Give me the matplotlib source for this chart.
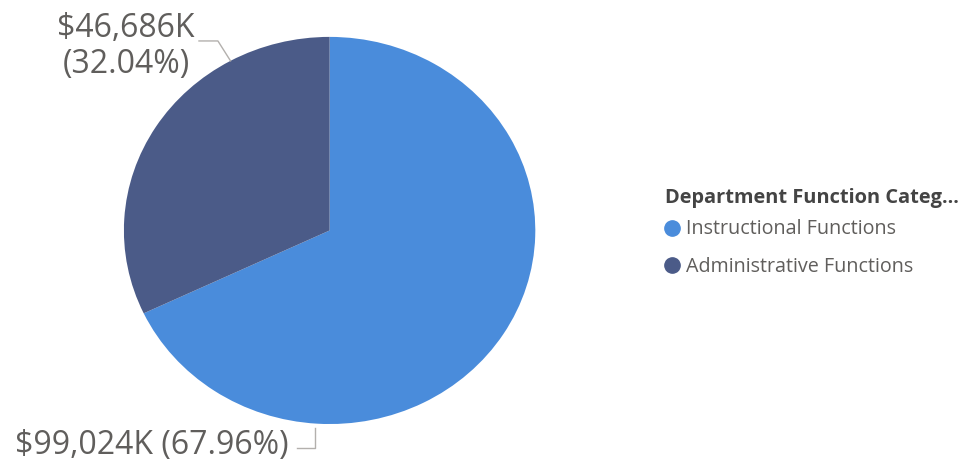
import numpy as np
import matplotlib.pyplot as plt
from matplotlib.lines import Line2D

# Daten
kategorien = ["Instructional Functions", "Administrative Functions"]
werte_k = [99024, 46686]          # in $K
farben = ["#4A8CDB", "#4B5B88"]
legenden_titel = "Department Function Categ..."

plt.rcParams['font.family'] = ['Open Sans', 'DejaVu Sans']
textfarbe = "#605E5C"

fig = plt.figure(figsize=(9.68, 4.67), dpi=100)
ax = fig.add_axes([0.128, 0.092, 0.425, 0.829])

wedges, _ = ax.pie(werte_k, colors=farben, startangle=90, counterclock=False,
                   wedgeprops=dict(linewidth=0))
ax.set_aspect('auto')
ax.set_xlim(-1, 1)
ax.set_ylim(-1, 1)

anteile = np.array(werte_k) / np.sum(werte_k) * 100
label_text = [f"${werte_k[0]:,}K ({anteile[0]:.2f}%)",
              f"${werte_k[1]:,}K\n({anteile[1]:.2f}%)"]

# Beschriftungen mit Hilfslinien
linienfarbe = "#B3B0AD"
# Administrative: Punkt auf dem Rand
a = np.deg2rad(118.8)
p = (np.cos(a), np.sin(a))
ax.plot([-0.635, -0.543, p[0]], [0.979, 0.979, p[1]], color=linienfarbe, lw=1,
        clip_on=False)
ax.text(-0.99, 0.95, label_text[1], ha="center", va="center", fontsize=23,
        color=textfarbe, linespacing=1.13)

# Instructional
ax.plot([-0.16, -0.07, -0.07], [-1.125, -1.125, -1.02], color=linienfarbe, lw=1,
        clip_on=False)
ax.text(-0.2, -1.112, label_text[0], ha="right", va="center", fontsize=23,
        color=textfarbe)

# Legende (Titel separat)
fig.text(0.687, 0.577, legenden_titel, ha="left", va="center", fontsize=14.4,
         fontweight="bold", color="#444444")
handles = [Line2D([], [], marker="o", linestyle="", markersize=11,
                  markerfacecolor=c, markeredgecolor=c) for c in farben]
leg = fig.legend(handles, kategorien, loc="upper left",
                 bbox_to_anchor=(0.686, 0.530), frameon=False, fontsize=14.2,
                 handletextpad=0.3, handlelength=0.8, labelspacing=0.9,
                 borderaxespad=0, borderpad=0)
for t in leg.get_texts():
    t.set_color(textfarbe)

fig.savefig("out.png", dpi=100, facecolor="white")
